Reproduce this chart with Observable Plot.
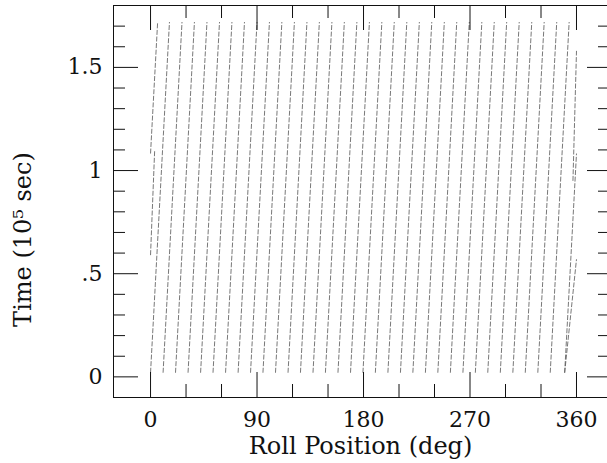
<!DOCTYPE html>
<html><head><meta charset="utf-8">
<script src="https://cdn.jsdelivr.net/npm/d3@7"></script>
<script src="https://cdn.jsdelivr.net/npm/@observablehq/plot@0.6"></script>
<style>html,body{margin:0;padding:0;background:#fff;overflow:hidden} svg{display:block}</style>
</head><body><div id="chart"></div>
<script>
// Roll position (deg) of each trace at the start of the run (time ≈ 0)
const rollStart = [0, 10.6, 21.1, 31.7, 42.3, 52.8, 63.4, 74, 84.5, 95, 105.6, 116.2, 126.7, 137.3,
  147.8, 158.4, 169, 179.5, 190, 200.6, 211.2, 221.7, 232.3, 242.8, 253.4, 264, 274.5, 285,
  295.6, 306.2, 316.7, 327.3, 337.8, 350];
// Roll position gained by each trace between start and end time (deg)
const rollDrift = 16;
const timeStart = 0.02;   // 10^5 s
const timeEnd = 1.72;     // 10^5 s
// Extra partial traces seen at the 0/360 wrap edges
const edgeRoll1 = [350, 0, 357];
const edgeTime1 = [0.02, 0.59, 0.95];
const edgeRoll2 = [360, 3.5, 360];
const edgeTime2 = [0.57, 1.10, 1.58];

const xTicksMajor = [0, 90, 180, 270, 360];
const xTicksMinor = [30, 60, 120, 150, 210, 240, 300, 330];
const yTicksMajor = [0, 0.5, 1, 1.5];
const yTickLabels = ["0", ".5", "1", "1.5"];
const yTicksMinor = [0.1, 0.2, 0.3, 0.4, 0.6, 0.7, 0.8, 0.9, 1.1, 1.2, 1.3, 1.4, 1.6, 1.7];
const xTitle = "Roll Position (deg)";
const yTitle = "Time (10⁵ sec)";

// Build trace segments, wrapping at 360 deg
const segs = [];
rollStart.forEach((r0) => {
  const r1 = r0 + rollDrift;
  if (r1 <= 360) segs.push({x1: r0, y1: timeStart, x2: r1, y2: timeEnd});
  else {
    const tw = timeStart + (timeEnd - timeStart) * (360 - r0) / rollDrift;
    segs.push({x1: r0, y1: timeStart, x2: 360, y2: tw});
    segs.push({x1: 0, y1: tw, x2: r1 - 360, y2: timeEnd});
  }
});
edgeRoll1.forEach((r, i) => segs.push({x1: r, y1: edgeTime1[i], x2: edgeRoll2[i], y2: edgeTime2[i]}));

const W = 607, H = 463, mL = 113, mR = 0, mT = 5, mB = 66;
const pw = W - mL - mR, ph = H - mT - mB;
const font = "'DejaVu Serif', serif";
const ink = "#111";

const chart = Plot.plot({
  width: W, height: H,
  marginLeft: mL, marginRight: mR, marginTop: mT, marginBottom: mB,
  x: {domain: [-31.3, 386.2]},
  y: {domain: [-0.1, 1.8]},
  style: {fontFamily: font, fontSize: "22px", color: ink, background: "#fff"},
  marks: [
    Plot.link(segs, {x1: "x1", y1: "y1", x2: "x2", y2: "y2", stroke: "#555", strokeWidth: 0.8, strokeDasharray: "5,1.6"}),
    // bottom ticks
    Plot.tickX(xTicksMajor, {x: d => d, insetTop: ph - 25, stroke: ink}),
    Plot.tickX(xTicksMinor, {x: d => d, insetTop: ph - 13, stroke: ink}),
    // top ticks
    Plot.tickX(xTicksMajor, {x: d => d, insetBottom: ph - 25, stroke: ink}),
    Plot.tickX(xTicksMinor, {x: d => d, insetBottom: ph - 13, stroke: ink}),
    // left ticks
    Plot.tickY(yTicksMajor, {y: d => d, insetRight: pw - 25, stroke: ink}),
    Plot.tickY(yTicksMinor, {y: d => d, insetRight: pw - 12, stroke: ink}),
    // right ticks
    Plot.tickY(yTicksMajor, {y: d => d, insetLeft: pw - 20, stroke: ink}),
    Plot.tickY(yTicksMinor, {y: d => d, insetLeft: pw - 9, stroke: ink}),
    Plot.frame({anchor: "left", stroke: ink}),
    Plot.frame({anchor: "top", stroke: ink}),
    Plot.frame({anchor: "bottom", stroke: ink}),
    Plot.axisX(xTicksMajor, {tickSize: 0, tickPadding: 14, fontSize: 22, fontFamily: font, fill: ink, label: null}),
    Plot.axisY(yTicksMajor, {tickSize: 0, tickPadding: 11, fontSize: 22, fontFamily: font, fill: ink, label: null,
      tickFormat: d => yTickLabels[yTicksMajor.indexOf(d)]}),
    Plot.text([xTitle], {frameAnchor: "bottom", dy: 56, lineAnchor: "bottom", textAnchor: "middle", text: d => d,
      fontSize: 24, fontFamily: font, fill: ink, letterSpacing: "1.2px"}),
    Plot.text([yTitle], {frameAnchor: "left", dx: -100, dy: 38, rotate: -90, lineAnchor: "top", textAnchor: "middle",
      text: d => d, fontSize: 24, fontFamily: font, fill: ink, letterSpacing: "3.6px"})
  ]
});
document.getElementById("chart").appendChild(chart);
</script>
</body></html>
